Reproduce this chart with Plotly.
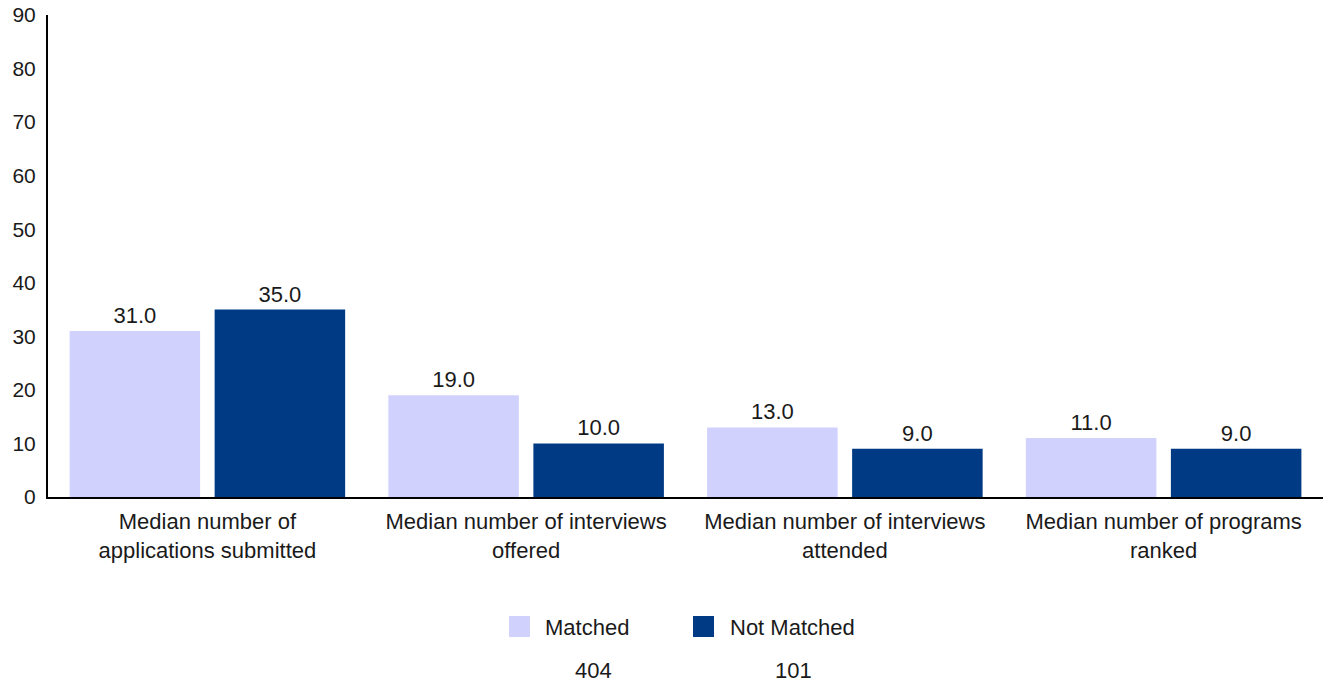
import plotly.graph_objects as go

categories = ["Median number of<br>applications submitted",
              "Median number of interviews<br>offered",
              "Median number of interviews<br>attended",
              "Median number of programs<br>ranked"]
matched = [31.0, 19.0, 13.0, 11.0]
not_matched = [35.0, 10.0, 9.0, 9.0]
series_names = ["Matched", "Not Matched"]
series_colors = ["#D0D2FD", "#003A84"]
counts = ["404", "101"]
y_ticks = [0, 10, 20, 30, 40, 50, 60, 70, 80, 90]

FONT = "Liberation Sans, Arial, sans-serif"
FS = 22
TXT = "#1a1a1a"

W, H = 1323, 684
ML, MR, MT, MB = 48, 0, 15, H - 497
PW, PH = W - ML - MR, H - MT - MB


def px_x(x):
    return (x - ML) / PW


def px_y(y):
    return (H - MB - y) / PH


fig = go.Figure()
for name, vals, col in zip(series_names, [matched, not_matched], series_colors):
    fig.add_trace(go.Bar(x=categories, y=vals, name=name,
                         marker=dict(color=col, line=dict(width=0)),
                         text=[f"{v:.1f}" for v in vals], textposition="outside",
                         textfont=dict(size=FS, color=TXT, family=FONT), cliponaxis=False,
                         showlegend=False))

fig.update_layout(
    width=W, height=H,
    margin=dict(l=ML, r=MR, t=MT, b=MB, autoexpand=False),
    paper_bgcolor="white", plot_bgcolor="white",
    font=dict(family=FONT, size=FS, color=TXT),
    barmode="group", bargap=0.09, bargroupgap=0.1,
    showlegend=False,
    xaxis=dict(showline=True, linecolor="black", linewidth=2, ticks="", automargin=False,
               tickfont=dict(size=FS, color=TXT), showgrid=False, zeroline=False,
               ticklabelstandoff=4),
    yaxis=dict(range=[0, 90], tickvals=y_ticks, showline=True, linecolor="black", linewidth=2,
               ticks="", showgrid=False, zeroline=False, automargin=False,
               tickfont=dict(size=21, color=TXT), ticklabelstandoff=6,
               ticklabeloverflow="allow"),
)

# custom legend (square swatches) and sample counts
legend_pos = [(509, 543), (693, 728)]
count_x = [593, 793]
for (sx, tx), name, col in zip(legend_pos, series_names, series_colors):
    fig.add_shape(type="rect", xref="paper", yref="paper",
                  x0=px_x(sx), x1=px_x(sx + 21), y0=px_y(616), y1=px_y(637),
                  fillcolor=col, line=dict(width=0))
    fig.add_annotation(x=px_x(tx), y=px_y(627), xref="paper", yref="paper", text=name,
                       showarrow=False, xanchor="left", yanchor="middle",
                       font=dict(size=FS, color=TXT, family=FONT))
for cx, c in zip(count_x, counts):
    fig.add_annotation(x=px_x(cx), y=px_y(670), xref="paper", yref="paper", text=c,
                       showarrow=False, xanchor="center", yanchor="middle", borderpad=0,
                       font=dict(size=FS, color=TXT, family=FONT))

fig.write_html("out.html", config={"displayModeBar": False},
               post_script="document.body.style.margin='0';")
